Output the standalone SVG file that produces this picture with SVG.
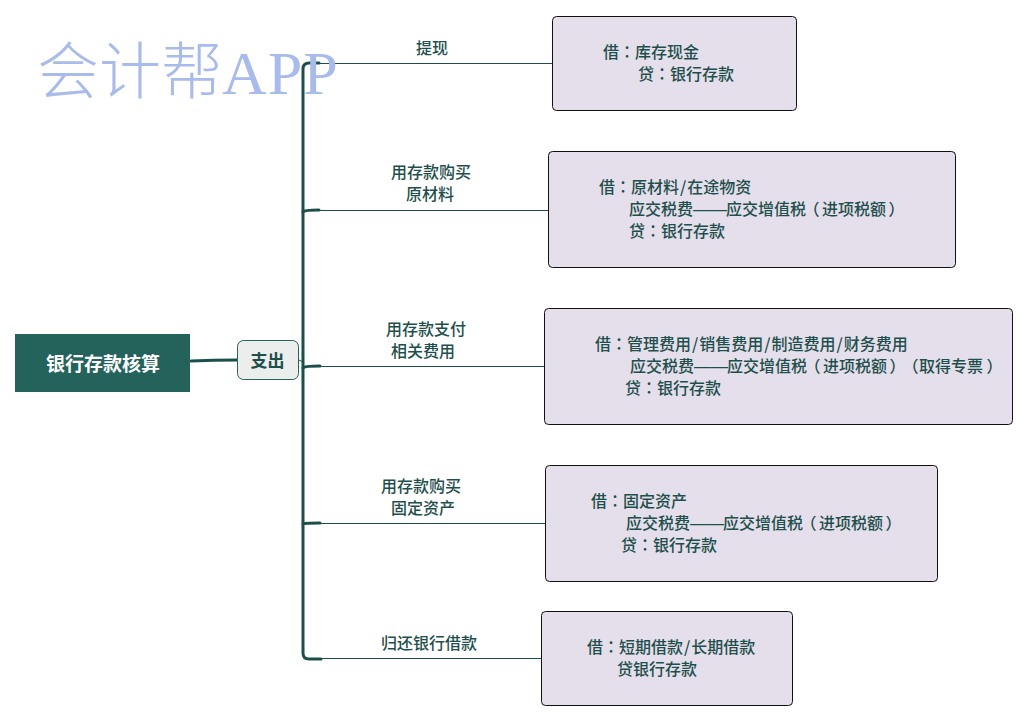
<svg xmlns="http://www.w3.org/2000/svg" width="1029" height="722" viewBox="0 0 1029 722">
<style>
text{font-family:"Noto Sans CJK SC","Noto Sans",sans-serif;font-size:16px;fill:#1f4f4c;font-weight:500;text-spacing-trim:space-all}
.lbl{text-anchor:middle}
.box{fill:#e5dfeb;stroke:#111;stroke-width:1}
.thin{fill:none;stroke:#1c4f4b;stroke-width:1}
.thick{fill:none;stroke:#1c4f4b;stroke-width:3;stroke-linecap:round}
.wm{font-family:"Liberation Serif","Noto Sans CJK SC",serif;font-size:62px;fill:#a9bbeb;font-weight:400}
.p{font-family:"Noto Sans CJK TC",sans-serif}
.q{font-family:"Noto Sans CJK TC",sans-serif;font-feature-settings:"palt"}
.d{font-family:"Liberation Sans",sans-serif;font-size:17px}
.s{letter-spacing:1px}
</style>
<rect width="1029" height="722" fill="#fff"/>
<g id="connectors">
<path class="thick" d="M191 361 Q214 360 237 360"/>
<path class="thin" d="M299 360 L303 362"/>
<path class="thick" d="M319 63 H309 Q303 63 303 69 V653 Q303 659 309 659 H321"/>
<path class="thick" d="M303 212 Q304 210 319 210"/>
<path class="thick" d="M303 368 Q304 366 320 366"/>
<path class="thick" d="M303 524 Q304 523 320 523"/>
<path class="thin" d="M319 63.500H553M319 210.500H549M320 366.500H545M320 523.500H546M321 658.500H542"/>
</g>
<g id="watermark"><text class="wm" x="37" y="94"><tspan font-family="Noto Sans CJK SC" font-weight="300">会计帮</tspan><tspan x="222" letter-spacing="1">APP</tspan></text></g>
<g id="root"><rect x="15" y="334" width="175" height="58" fill="#24625c"/><text class="lbl" x="103" y="371" style="fill:#fff;font-size:19px;font-weight:700">银行存款核算</text></g>
<g id="branch"><rect x="237.500" y="340.500" width="61" height="39" rx="6" fill="#eceded" stroke="#24625c"/><text class="lbl" x="267.500" y="367" style="font-size:17px;font-weight:700">支出</text></g>
<g id="label1"><text class="lbl" x="432" y="54">提现</text></g>
<g id="label2"><text class="lbl" x="431" y="178">用存款购买</text><text class="lbl" x="430" y="200">原材料</text></g>
<g id="label3"><text class="lbl" x="426" y="335">用存款支付</text><text class="lbl" x="423" y="357">相关费用</text></g>
<g id="label4"><text class="lbl" x="421" y="492">用存款购买</text><text class="lbl" x="423" y="514">固定资产</text></g>
<g id="label5"><text class="lbl" x="429" y="649">归还银行借款</text></g>
<g id="entry1"><rect class="box" x="552.500" y="16.500" width="244" height="94" rx="4"/><text x="603" y="58">借<tspan class="p">：</tspan>库存现金</text><text x="638" y="80">贷<tspan class="p">：</tspan>银行存款</text></g>
<g id="entry2"><rect class="box" x="548.500" y="151.500" width="407" height="116" rx="4"/><text x="599" y="193">借<tspan class="p">：</tspan>原材料<tspan class="s" dx="1">/</tspan>在途物资</text><text x="629" y="215">应交税费<tspan class="d">——</tspan><tspan x="726">应交增值税</tspan><tspan class="q" x="811">（</tspan><tspan x="822">进项税额</tspan><tspan class="q" x="889">）</tspan></text><text x="629" y="237">贷<tspan class="p">：</tspan>银行存款</text></g>
<g id="entry3"><rect class="box" x="544.500" y="308.500" width="468" height="116" rx="4"/><text x="595" y="350">借<tspan class="p">：</tspan>管理费用<tspan class="s" dx="1">/</tspan>销售费用<tspan class="s" dx="1">/</tspan>制造费用<tspan class="s" dx="1">/</tspan>财务费用</text><text x="630" y="372">应交税费<tspan class="d">——</tspan><tspan x="727">应交增值税</tspan><tspan class="q" x="812">（</tspan><tspan x="823">进项税额</tspan><tspan class="q" x="890">）</tspan><tspan class="q" x="910">（</tspan><tspan x="919">取得专票</tspan><tspan class="q" x="987">）</tspan></text><text x="625" y="394">贷<tspan class="p">：</tspan>银行存款</text></g>
<g id="entry4"><rect class="box" x="545.500" y="465.500" width="392" height="116" rx="4"/><text x="591" y="507">借<tspan class="p">：</tspan>固定资产</text><text x="626" y="529">应交税费<tspan class="d">——</tspan><tspan x="723">应交增值税</tspan><tspan class="q" x="808">（</tspan><tspan x="819">进项税额</tspan><tspan class="q" x="886">）</tspan></text><text x="621" y="551">贷<tspan class="p">：</tspan>银行存款</text></g>
<g id="entry5"><rect class="box" x="541.500" y="611.500" width="251" height="94" rx="4"/><text x="587" y="653">借<tspan class="p">：</tspan>短期借款<tspan class="s" dx="1">/</tspan>长期借款</text><text x="617" y="675">贷银行存款</text></g>
</svg>
